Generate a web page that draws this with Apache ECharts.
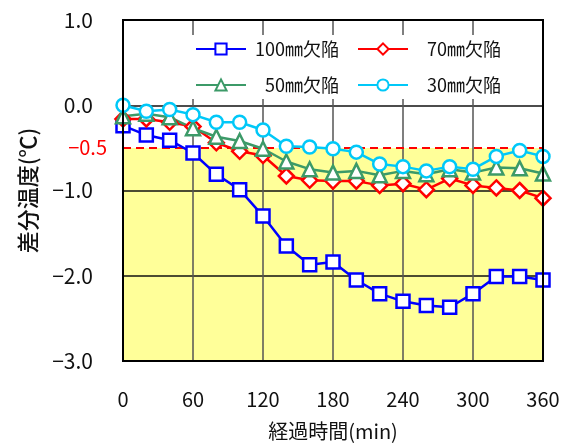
<!DOCTYPE html>
<html><head><meta charset="utf-8">
<script src="https://cdn.jsdelivr.net/npm/echarts@6/dist/echarts.min.js"></script>
<style>html,body{margin:0;padding:0;background:#fff}#c{width:571px;height:446px}</style>
</head><body><div id="c"></div>
<script>
var times = [0,20,40,60,80,100,120,140,160,180,200,220,240,260,280,300,320,340,360];
var s100 = [-0.24,-0.35,-0.41,-0.56,-0.81,-0.99,-1.30,-1.65,-1.87,-1.84,-2.05,-2.21,-2.30,-2.35,-2.37,-2.21,-2.01,-2.01,-2.05];
var s70  = [-0.16,-0.16,-0.20,-0.25,-0.44,-0.54,-0.59,-0.83,-0.88,-0.89,-0.89,-0.94,-0.92,-0.99,-0.86,-0.94,-0.97,-1.00,-1.09];
var s50  = [-0.13,-0.10,-0.14,-0.27,-0.37,-0.42,-0.51,-0.66,-0.75,-0.79,-0.77,-0.82,-0.77,-0.81,-0.75,-0.79,-0.73,-0.74,-0.80];
var s30  = [0.00,-0.07,-0.05,-0.11,-0.20,-0.20,-0.29,-0.48,-0.49,-0.51,-0.55,-0.69,-0.72,-0.77,-0.72,-0.75,-0.60,-0.53,-0.60];
var names = ['100㎜欠陥','70㎜欠陥','50㎜欠陥','30㎜欠陥'];
var xTicks = [0,60,120,180,240,300,360];
var threshold = -0.5;

var FONT = "'Noto Sans CJK JP', sans-serif";
function pairs(a){ return times.map(function(t,i){ return [t,a[i]]; }); }
function mk(name, data, color, symbol, size){
  return {
    name: name, type: 'line', data: pairs(data), z: 4, clip: false,
    symbol: symbol, symbolSize: size, showAllSymbol: true,
    lineStyle: {color: color, width: 2.5},
    itemStyle: {color: '#fff', borderColor: color, borderWidth: 2.5},
    emphasis: {disabled: true}
  };
}
var series = [
  { name: 'bg', type: 'line', data: [], z: 0, silent: true,
    markArea: { silent: true, z: 0, itemStyle: {color: '#ffff99'}, data: [[{yAxis: threshold}, {yAxis: -3}]] } },
  mk(names[0], s100, '#0000ff', 'rect', 13),
  mk(names[1], s70, '#ff0000', 'diamond', 15),
  mk(names[2], s50, '#3c9a68', 'triangle', 14),
  mk(names[3], s30, '#00c8f8', 'circle', 13)
];
series[1].markLine = {
  silent: true, symbol: 'none', z: 3,
  lineStyle: {color: '#ff0000', type: [8, 5], width: 2},
  label: {position: 'start', formatter: '−0.5', color: '#ff0000', fontSize: 20, fontFamily: FONT, distance: 16},
  data: [{yAxis: threshold}]
};

var chart = echarts.init(document.getElementById('c'));
chart.setOption({
  animation: false,
  textStyle: {fontFamily: FONT},
  grid: {left: 123, right: 28, top: 20, bottom: 84, show: true, borderColor: '#000', borderWidth: 2, z: 6, backgroundColor: 'transparent'},
  legend: {
    data: names, left: 189, top: 35, width: 330, itemGap: 18,
    backgroundColor: '#fff', padding: [5, 8, 5, 6], z: 7,
    itemWidth: 50, itemHeight: 14,
    formatter: '{a|{name}}',
    textStyle: {fontSize: 18, color: '#111', fontFamily: FONT,
      rich: {a: {width: 88, align: 'right', fontSize: 18, lineHeight: 25, fontFamily: FONT, color: '#111'}}}
  },
  xAxis: {
    type: 'value', min: 0, max: 360, interval: 60, z: 2,
    name: '経過時間(min)', nameLocation: 'middle', nameGap: 60,
    nameTextStyle: {fontSize: 20, color: '#111', fontFamily: FONT},
    axisLine: {show: false}, axisTick: {show: false},
    axisLabel: {fontSize: 20, color: '#111', margin: 28, fontFamily: FONT},
    splitLine: {show: true, lineStyle: {color: '#555', width: 1.5}}
  },
  yAxis: {
    type: 'value', min: -3, max: 1, interval: 1, z: 2,
    name: '差分温度(℃)', nameLocation: 'middle', nameGap: 84, nameRotate: 90,
    nameTextStyle: {fontSize: 22, color: '#111', fontFamily: FONT, fontWeight: 500},
    axisLine: {show: false}, axisTick: {show: false},
    axisLabel: {fontSize: 21, color: '#111', margin: 30, fontFamily: FONT,
      formatter: function(v){ return (v < 0 ? '−' : '') + Math.abs(v).toFixed(1); }},
    splitLine: {show: true, lineStyle: {color: '#111', width: 1.5}}
  },
  series: series
});
</script></body></html>
